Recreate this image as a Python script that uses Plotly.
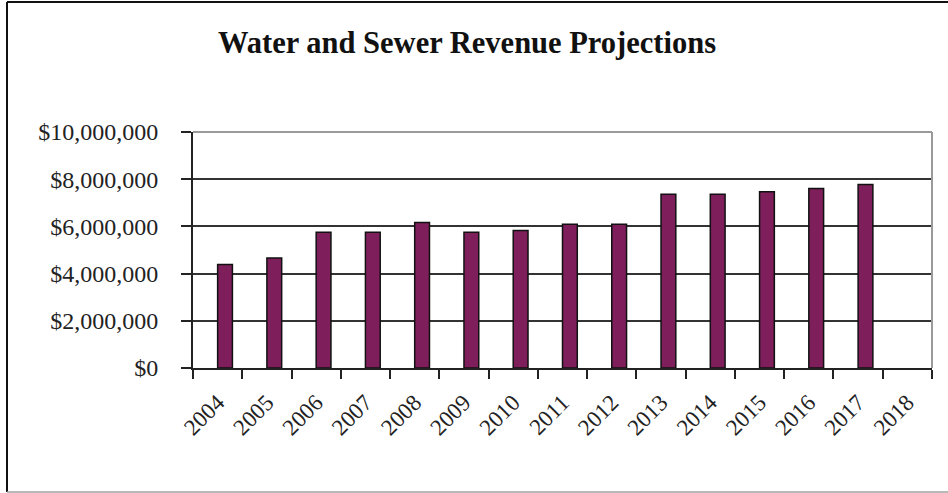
import plotly.graph_objects as go

years = ["2004", "2005", "2006", "2007", "2008", "2009", "2010", "2011",
         "2012", "2013", "2014", "2015", "2016", "2017", "2018"]
revenue = [4390000, 4660000, 5750000, 5750000, 6170000, 5750000, 5830000,
           6090000, 6090000, 7360000, 7360000, 7470000, 7610000, 7780000, None]
y_ticks = [0, 2000000, 4000000, 6000000, 8000000, 10000000]

W, H = 948, 493
L, R, T, B = 193, 16, 132, 125
PW, PH = W - L - R, H - T - B

def px(x):
    return (x - L) / PW

def py(y):
    return (H - B - y) / PH

fig = go.Figure()
fig.add_trace(go.Bar(
    x=years, y=revenue,
    marker=dict(color="#7e1f5c", line=dict(color="#111111", width=1.5)),
    offset=0.0, width=0.3,
    hoverinfo="x+y",
))

font = "Liberation Serif, Times New Roman, serif"
fig.update_layout(
    width=W, height=H,
    margin=dict(l=L, r=R, t=T, b=B, autoexpand=False),
    paper_bgcolor="white", plot_bgcolor="white",
    showlegend=False,
    title=dict(text="<b>Water and Sewer Revenue Projections</b>",
               x=467 / W, xanchor="center", y=1 - 42 / H, yanchor="middle",
               font=dict(family=font, size=30.5, color="#111111")),
    font=dict(family=font, color="#111111"),
    xaxis=dict(
        type="category", range=[-0.5, 14.5],
        showline=True, linecolor="#222222", linewidth=2,
        ticks="outside", ticklen=9, tickcolor="#222222", tickwidth=2,
        tickson="boundaries", tickangle=-45, ticklabelstandoff=10,
        tickfont=dict(family=font, size=23, color="#222222"),
        showgrid=False, zeroline=False,
    ),
    yaxis=dict(
        range=[0, 10000000], tickvals=y_ticks, tickformat="$,.0f",
        showline=True, linecolor="#222222", linewidth=2,
        ticks="outside", ticklen=10, tickcolor="#222222", tickwidth=2,
        ticklabelstandoff=18,
        tickfont=dict(family=font, size=24, color="#222222"),
        showgrid=True, gridcolor="#333333", gridwidth=2, zeroline=False,
    ),
    shapes=[
        # plot area border (top/right grey)
        dict(type="line", xref="paper", yref="paper", x0=0, x1=1, y0=1, y1=1,
             line=dict(color="#9a9a9a", width=2), layer="above"),
        dict(type="line", xref="paper", yref="paper", x0=1, x1=1, y0=0, y1=1,
             line=dict(color="#9a9a9a", width=2), layer="above"),
        # outer chart border
        dict(type="line", xref="paper", yref="paper", x0=px(7), x1=px(7),
             y0=py(492), y1=py(2), line=dict(color="#111111", width=2)),
        dict(type="line", xref="paper", yref="paper", x0=px(7), x1=px(948),
             y0=py(2), y1=py(2), line=dict(color="#111111", width=2)),
        dict(type="line", xref="paper", yref="paper", x0=px(7), x1=px(948),
             y0=py(492), y1=py(492), line=dict(color="#a0a0a0", width=1.5)),
    ],
)

fig.write_html("out.html", config={"displayModeBar": False},
               post_script="document.body.style.margin='0';")
